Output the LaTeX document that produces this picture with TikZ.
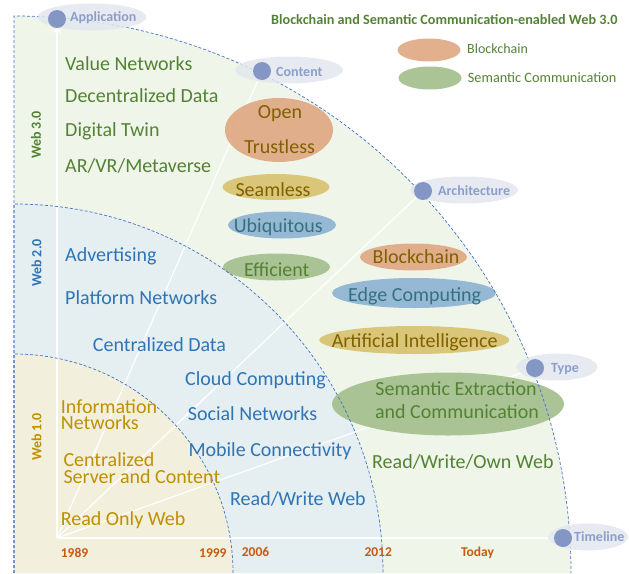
\documentclass[tikz,border=0pt]{standalone}
\usepackage{fontspec}
\setmainfont{Carlito}
\usetikzlibrary{shapes.geometric,arrows}
\definecolor{webthree}{HTML}{EFF6E9}
\definecolor{webtwo}{HTML}{E5EEF1}
\definecolor{webone}{HTML}{F2EFDD}
\definecolor{zoneline}{HTML}{4472C4}
\definecolor{tagfill}{HTML}{E3E7EF}
\definecolor{tagtxt}{HTML}{8B9ECB}
\definecolor{hubc}{HTML}{8497C4}
\definecolor{orng}{HTML}{E0A781}
\definecolor{gld}{HTML}{D8C16C}
\definecolor{blu}{HTML}{8CB3D2}
\definecolor{grn}{HTML}{A2BE8B}
\definecolor{brn}{HTML}{806000}
\definecolor{teal}{HTML}{35727F}
\definecolor{txtthree}{HTML}{548235}
\definecolor{txttwo}{HTML}{2E75B6}
\definecolor{txtone}{HTML}{BF9000}
\definecolor{yr}{HTML}{C55A11}

\begin{document}
\begin{tikzpicture}[x = 1pt, y = -1pt]
\tikzstyle{zone}=[draw = zoneline, line width = 0.7pt, dash pattern = on 3pt off 2pt]
\tikzstyle{ray}=[draw = white, line width = 1.2pt]
\tikzstyle{axisarrow}=[draw = white, line width = 2pt, ->, shorten > = 9pt]
\tikzstyle{blob}=[shape = ellipse, inner sep = 0pt, fill opacity = 0.9]
\tikzstyle{tag}=[shape = ellipse, inner sep = 0pt, fill = tagfill, fill opacity = 0.85,
                 minimum height = 27pt]
\tikzstyle{hub}=[shape = circle, inner sep = 0pt, minimum size = 18pt, fill = hubc]
\tikzstyle{tagtext}=[anchor = base west, inner sep = 0pt, text = tagtxt,
                     font = \bfseries\fontsize{14}{16}\selectfont]
\tikzstyle{big}=[inner sep = 0pt, font = \fontsize{20}{24}\selectfont]
\tikzstyle{lft}=[big, anchor = base west]
\tikzstyle{mid}=[big, anchor = base]
\tikzstyle{year}=[anchor = base west, inner sep = 0pt, text = yr,
                  font = \bfseries\fontsize{13.5}{16}\selectfont]
\tikzstyle{era}=[rotate = 90, inner sep = 0pt, font = \bfseries\fontsize{14}{16}\selectfont]
\useasboundingbox (0,0) rectangle (629,573);

\fill[webthree] (14,573) -- (14,16) arc[start angle = -90, end angle = 0, radius = 557] -- cycle;
\fill[webtwo] (14,573) -- (14,204) arc[start angle = -90, end angle = 0, radius = 369] -- cycle;
\fill[webone] (14,573) -- (14,354) arc[start angle = -90, end angle = 0, radius = 219] -- cycle;

\coordinate (o) at (57,538);
\coordinate (app) at (57,19);
\coordinate (cont) at (262,71);
\coordinate (arch) at (423,191);
\coordinate (typ) at (535,368);
\coordinate (tl) at (563,538);
\draw[axisarrow] (o) -- (app);
\draw[axisarrow] (o) -- (tl);
\draw[ray] (o) -- (cont);
\draw[ray] (o) -- (arch);
\draw[ray] (o) -- (typ);

\node[blob, fill = orng, minimum width = 108pt, minimum height = 64pt] (open) at (279,130) {};
\node[blob, fill = gld, minimum width = 107pt, minimum height = 26pt] (seam) at (276,187) {};
\node[blob, fill = blu, minimum width = 108pt, minimum height = 27pt] (ubiq) at (282,225) {};
\node[blob, fill = grn, minimum width = 107pt, minimum height = 27pt] (effi) at (276.5,267) {};
\node[blob, fill = orng, minimum width = 107pt, minimum height = 27pt] (bc) at (413.5,257) {};
\node[blob, fill = blu, minimum width = 164pt, minimum height = 30pt] (edge) at (414,293) {};
\node[blob, fill = gld, minimum width = 190pt, minimum height = 28pt] (ai) at (414.3,340) {};
\node[blob, fill = grn, minimum width = 232pt, minimum height = 63pt] (sem) at (448,404) {};
\node[blob, fill = orng, minimum width = 63pt, minimum height = 23pt] (keybc) at (429,50) {};
\node[blob, fill = grn, minimum width = 63pt, minimum height = 23pt] (keysc) at (430,78) {};

\draw[zone] (14,573) -- (14,16) arc[start angle = -90, end angle = 0, radius = 557];
\draw[zone] (14,573) -- (14,204) arc[start angle = -90, end angle = 0, radius = 369];
\draw[zone] (14,573) -- (14,354) arc[start angle = -90, end angle = 0, radius = 219];

\node[tag, minimum width = 109pt] (apptag) at (92,17) {};
\node[tag, minimum width = 108pt] (conttag) at (289,70) {};
\node[tag, minimum width = 108pt] (archtag) at (464,190) {};
\node[tag, minimum width = 81pt] (typtag) at (557,367) {};
\node[tag, minimum width = 80pt] (tltag) at (588,537) {};
\node[hub] (apphub) at (app) {};
\node[hub] (conthub) at (cont) {};
\node[hub] (archhub) at (arch) {};
\node[hub] (typhub) at (typ) {};
\node[hub] (tlhub) at (tl) {};
\node[tagtext] (applbl) at (70,21.5) {Application};
\node[tagtext] (contlbl) at (276,76.5) {Content};
\node[tagtext] (archlbl) at (438,195) {Architecture};
\node[tagtext] (typlbl) at (551,372) {Type};
\node[tagtext] (tllbl) at (574,541) {Timeline};

\node[anchor = base west, inner sep = 0pt, text = txtthree, font = \bfseries\fontsize{14.2}{16}\selectfont]
  (title) at (271,24) {Blockchain and Semantic Communication-enabled Web 3.0};
\node[anchor = base west, inner sep = 0pt, text = txtthree, font = \fontsize{14}{16}\selectfont]
  (keybctx) at (467,53.3) {Blockchain};
\node[anchor = base west, inner sep = 0pt, text = txtthree, font = \fontsize{14.3}{16}\selectfont]
  (keysctx) at (467.7,82.3) {Semantic Communication};

\node[era, text = txtthree] (w3) at (36,135) {Web 3.0};
\node[era, text = txttwo] (w2) at (36.5,263) {Web 2.0};
\node[era, text = txtone] (w1) at (36.5,437) {Web 1.0};

\node[lft, text = txtthree] (w3a) at (65,70) {Value Networks};
\node[lft, text = txtthree] (w3b) at (65,102.5) {Decentralized Data};
\node[lft, text = txtthree] (w3c) at (65,136.5) {Digital Twin};
\node[lft, text = txtthree] (w3d) at (65,172.3) {AR/VR/Metaverse};
\node[lft, text = txtthree] (w3e) at (372,468.3) {Read/Write/Own Web};

\node[mid, text = brn] (opentx) at (280,118) {Open};
\node[mid, text = brn] (trusttx) at (279.7,153) {Trustless};
\node[mid, text = brn] (seamtx) at (273,196) {Seamless};
\node[mid, text = teal] (ubiqtx) at (278.3,232.7) {Ubiquitous};
\node[mid, text = txtthree] (effitx) at (276.7,276) {Efficient};
\node[mid, text = brn] (bctx) at (416,263.3) {Blockchain};
\node[mid, text = teal] (edgetx) at (414.7,301) {Edge Computing};
\node[mid, text = brn] (aitx) at (414.7,347.3) {Artificial Intelligence};
\node[mid, text = txtthree] (semtxa) at (456,395) {Semantic Extraction};
\node[mid, text = txtthree] (semtxb) at (457,418.3) {and Communication};

\node[lft, text = txttwo] (w2a) at (65,261.5) {Advertising};
\node[lft, text = txttwo] (w2b) at (65,304) {Platform Networks};
\node[lft, text = txttwo] (w2c) at (92.7,351.7) {Centralized Data};
\node[lft, text = txttwo] (w2d) at (185,385.5) {Cloud Computing};
\node[lft, text = txttwo] (w2e) at (187.7,420) {Social Networks};
\node[lft, text = txttwo] (w2f) at (188.3,456) {Mobile Connectivity};
\node[lft, text = txttwo] (w2g) at (230,505) {Read/Write Web};

\node[lft, text = txtone] (w1a) at (60.7,413) {Information};
\node[lft, text = txtone, text height = 13pt] (w1b) at (60.7,429.3) {Networks};
\node[lft, text = txtone] (w1c) at (63.3,466.5) {Centralized};
\node[lft, text = txtone, text height = 13pt] (w1d) at (63.3,483) {Server and Content};
\node[lft, text = txtone] (w1e) at (60.7,525) {Read Only Web};

\node[year] (y89) at (60.7,557.3) {1989};
\node[year] (y99) at (199,557.3) {1999};
\node[year] (y06) at (241.7,556) {2006};
\node[year] (y12) at (364.3,556) {2012};
\node[year] (ytd) at (461,556) {Today};
\end{tikzpicture}
\end{document}
